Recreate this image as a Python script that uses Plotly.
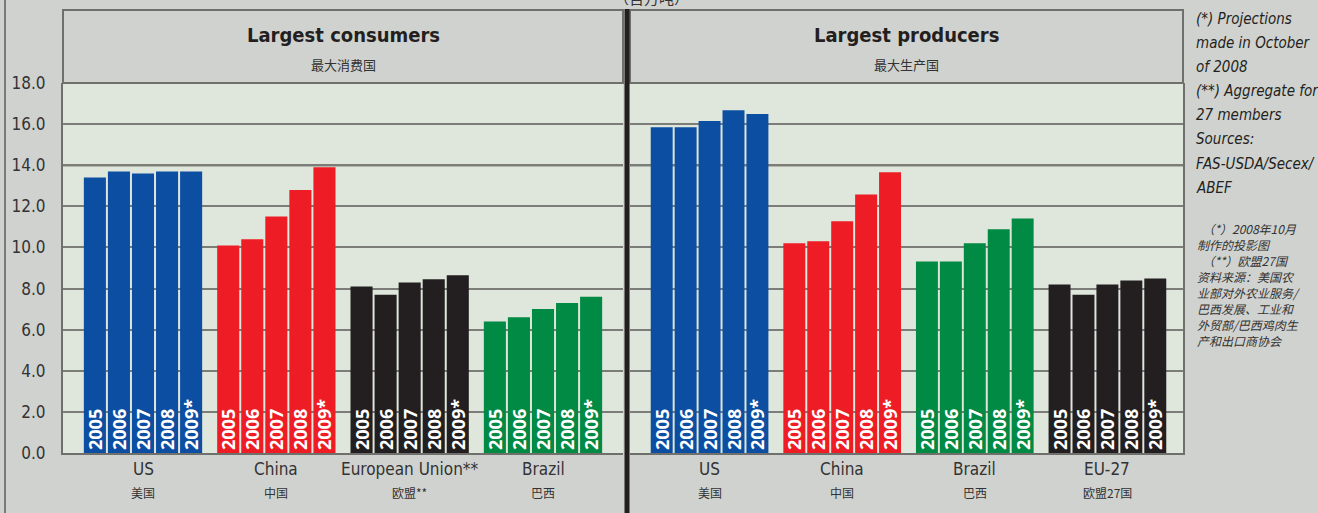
import plotly.graph_objects as go

W, H = 1318, 513

years = ["2005", "2006", "2007", "2008", "2009*"]

cons_countries = ["US", "China", "European Union**", "Brazil"]
cons_countries_cn = ["美国", "中国", "欧盟**", "巴西"]
cons_us = [13.4, 13.7, 13.6, 13.7, 13.7]
cons_china = [10.1, 10.4, 11.5, 12.8, 13.9]
cons_eu = [8.1, 7.7, 8.3, 8.45, 8.65]
cons_brazil = [6.4, 6.6, 7.0, 7.3, 7.6]

prod_countries = ["US", "China", "Brazil", "EU-27"]
prod_countries_cn = ["美国", "中国", "巴西", "欧盟27国"]
prod_us = [15.85, 15.85, 16.15, 16.68, 16.49]
prod_china = [10.2, 10.3, 11.27, 12.58, 13.66]
prod_brazil = [9.32, 9.32, 10.2, 10.88, 11.41]
prod_eu27 = [8.2, 7.7, 8.2, 8.39, 8.49]

y_ticks = [0, 2, 4, 6, 8, 10, 12, 14, 16, 18]

BLUE, RED, BLACK, GREEN = "#0c4ea2", "#ee1c25", "#231f20", "#008a43"
cons_colors = [BLUE, RED, BLACK, GREEN]
prod_colors = [BLUE, RED, GREEN, BLACK]

BG = "#d0d2cf"
PLOT_BG = "#dfe6dc"
TXT = "#333333"
NARROW = "Liberation Sans Narrow, DejaVu Sans Condensed, Arial Narrow, sans-serif"
CJK = "Noto Sans CJK SC, sans-serif"


def px(x):
    return x / W


def py(y):
    return 1 - y / H


fig = go.Figure()

cons_series = [cons_us, cons_china, cons_eu, cons_brazil]
prod_series = [prod_us, prod_china, prod_brazil, prod_eu27]

bar_font = dict(family="Open Sans, DejaVu Sans, sans-serif", size=18, color="white", weight="bold")

for k, yr in enumerate(years):
    fig.add_trace(go.Bar(
        x=cons_countries, y=[s[k] for s in cons_series],
        marker=dict(color=cons_colors, line=dict(width=0)),
        text=[yr] * 4, textposition="inside", insidetextanchor="start",
        textangle=-90, constraintext="none", textfont=bar_font,
        xaxis="x", yaxis="y", showlegend=False, hoverinfo="skip",
    ))
    fig.add_trace(go.Bar(
        x=prod_countries, y=[s[k] for s in prod_series],
        marker=dict(color=prod_colors, line=dict(width=0)),
        text=[yr] * 4, textposition="inside", insidetextanchor="start",
        textangle=-90, constraintext="none", textfont=bar_font,
        xaxis="x2", yaxis="y2", showlegend=False, hoverinfo="skip",
    ))

ydom = [py(453), py(83)]
yax_common = dict(
    range=[0, 18], domain=ydom, tickvals=y_ticks, showgrid=True,
    gridcolor="#7c7d79", gridwidth=2, zeroline=False, showline=True,
    linecolor="#6f706c", linewidth=2, ticks="", automargin=False,
)

fig.update_layout(
    width=W, height=H,
    margin=dict(l=0, r=0, t=0, b=0, pad=0, autoexpand=False),
    paper_bgcolor=BG, plot_bgcolor=PLOT_BG,
    barmode="group", bargap=0.0977, bargroupgap=0.083,
    xaxis=dict(domain=[px(63), px(623)], range=[-0.6, 3.6], showticklabels=False,
               showgrid=False, zeroline=False, showline=True, linecolor="#6f706c",
               linewidth=2, anchor="y", ticks="", automargin=False),
    xaxis2=dict(domain=[px(630), px(1183)], range=[-0.6, 3.57], showticklabels=False,
                showgrid=False, zeroline=False, showline=True, linecolor="#6f706c",
                linewidth=2, anchor="y2", ticks="", automargin=False),
    yaxis=dict(**yax_common, anchor="x", side="left", tickformat=".1f",
               tickfont=dict(family=NARROW, size=17, color=TXT), ticklabelstandoff=12),
    yaxis2=dict(**yax_common, anchor="x2", side="right", showticklabels=False,
                matches="y"),
)

shapes = []
# dark upper gridlines
for gv in [14, 16, 18]:
    for xr, yr_ in [("x domain", "y"), ("x2 domain", "y2")]:
        shapes.append(dict(type="line", xref=xr, yref=yr_, x0=0, x1=1, y0=gv, y1=gv,
                           line=dict(color="#2a2a2a", width=2), layer="below"))
# header boxes
for x0, x1 in [(63, 623), (630, 1183)]:
    shapes.append(dict(type="rect", xref="paper", yref="paper", x0=px(x0), x1=px(x1),
                       y0=py(83), y1=py(10), fillcolor=BG,
                       line=dict(color="#6f706c", width=2), layer="above"))
# thick divider
shapes.append(dict(type="line", xref="paper", yref="paper", x0=px(627), x1=px(627),
                   y0=0, y1=py(9), line=dict(color="#231f20", width=5)))
# outer frame left
shapes.append(dict(type="line", xref="paper", yref="paper", x0=px(5), x1=px(5),
                   y0=0, y1=1, line=dict(color="#7a7a76", width=2)))
fig.update_layout(shapes=shapes)

ann = []
# headers
for cx, t_en, t_cn in [((63 + 623) / 2, "Largest consumers", "最大消费国"),
                       ((630 + 1183) / 2, "Largest producers", "最大生产国")]:
    ann.append(dict(x=px(cx), y=py(35), xref="paper", yref="paper", text=f"<b>{t_en}</b>",
                    xanchor="center", yanchor="middle", showarrow=False,
                    font=dict(family=NARROW, size=20, color="#231f20")))
    ann.append(dict(x=px(cx), y=py(64), xref="paper", yref="paper", text=t_cn,
                    xanchor="center", yanchor="middle", showarrow=False,
                    font=dict(family=CJK, size=13, color=TXT)))

# category labels
for axn, names, cn in [("x", cons_countries, cons_countries_cn),
                       ("x2", prod_countries, prod_countries_cn)]:
    for i, (n, c) in enumerate(zip(names, cn)):
        ann.append(dict(x=i, y=py(469), xref=axn, yref="paper", text=n,
                        xanchor="center", yanchor="middle", showarrow=False,
                        font=dict(family=NARROW, size=17, color=TXT)))
        ann.append(dict(x=i, y=py(492), xref=axn, yref="paper", text=c,
                        xanchor="center", yanchor="middle", showarrow=False,
                        font=dict(family=CJK, size=12, color=TXT)))

# unit (cut at top, as in the original)
ann.append(dict(x=px(651), y=py(-3), xref="paper", yref="paper", text="（百万吨）",
                xanchor="center", yanchor="middle", showarrow=False,
                font=dict(family=CJK, size=15, color=TXT)))

notes_en = ["(*) Projections", "made in October", "of 2008", "(**) Aggregate for",
            "27 members", "Sources:", "FAS-USDA/Secex/", "ABEF"]
for i, t in enumerate(notes_en):
    ann.append(dict(x=px(1194), y=py(19 + i * 24.1), xref="paper", yref="paper", text=f"<i>{t}</i>",
                    xanchor="left", yanchor="middle", showarrow=False,
                    font=dict(family=NARROW, size=15, color="#231f20")))

notes_cn = ["  （*）2008年10月", "制作的投影图", "  （**）欧盟27国", "资料来源：美国农",
            "业部对外农业服务/", "巴西发展、工业和", "外贸部/巴西鸡肉生", "产和出口商协会"]
for i, t in enumerate(notes_cn):
    ann.append(dict(x=px(1195), y=py(228 + i * 16), xref="paper", yref="paper", text=f"<i>{t}</i>",
                    xanchor="left", yanchor="middle", showarrow=False,
                    font=dict(family=CJK, size=12, color=TXT)))

fig.update_layout(annotations=ann)

fig.write_html("out.html")
